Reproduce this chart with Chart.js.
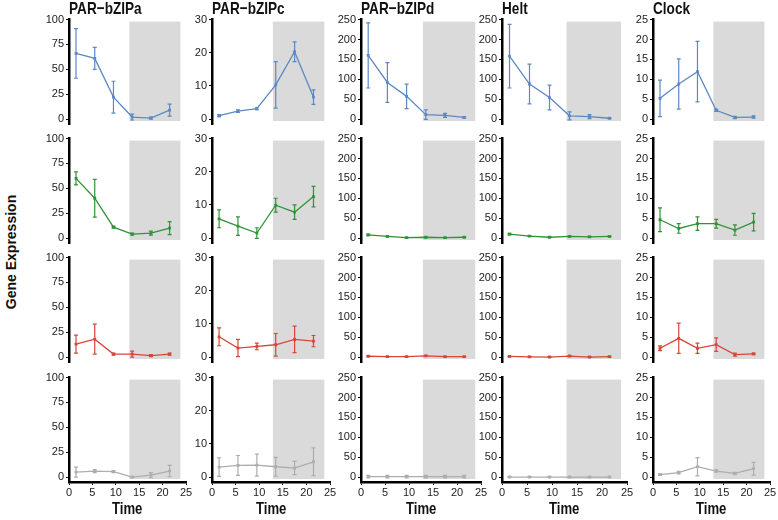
<!DOCTYPE html>
<html>
<head>
<meta charset="utf-8">
<script src="https://cdn.jsdelivr.net/npm/chart.js@4"></script>
<style>
  body { margin: 0; background: #fff; width: 778px; height: 520px; position: relative; overflow: hidden;
         font-family: 'Liberation Sans', Arial, sans-serif; }
  canvas { position: absolute; }
  .lbl { position: absolute; font-weight: bold; color: #111; white-space: nowrap; transform-origin: 0 0; }
</style>
</head>
<body>
<script>
// genes (columns) and time points
const genes = ['PAR\u2212bZIPa', 'PAR\u2212bZIPc', 'PAR\u2212bZIPd', 'Helt', 'Clock'];
const time = [1.5, 5.5, 9.5, 13.5, 17.5, 21.5];
const xTicks = [0, 5, 10, 15, 20, 25];
const darkStart = 12.9, darkEnd = 23.8;

// y range per gene
const yMax = [100, 30, 250, 250, 25];
const yTicks = [
  [0, 25, 50, 75, 100],
  [0, 10, 20, 30],
  [0, 50, 100, 150, 200, 250],
  [0, 50, 100, 150, 200, 250],
  [0, 5, 10, 15, 20, 25]
];

// row 1 (blue)
const blueMean = [
  [66, 61, 22, 2, 1, 9],
  [1, 2.4, 3.1, 10.3, 20.3, 6.6],
  [160, 92, 57, 11, 9, 4],
  [158, 88, 54, 8, 6, 2],
  [5.2, 8.8, 11.9, 2.2, 0.4, 0.5]
];
const blueErr = [
  [25, 11, 16, 3, 1, 6],
  [0.3, 0.4, 0.3, 7, 3, 2.2],
  [82, 50, 31, 12, 5, 2],
  [80, 50, 31, 10, 5, 1],
  [4.6, 6.3, 7.6, 0.3, 0.3, 0.3]
];
// row 2 (green)
const greenMean = [
  [60, 40, 11, 4, 5, 10],
  [5.8, 3.6, 1.5, 9.9, 7.8, 12.5],
  [8, 4, 1, 2, 1, 2],
  [10, 5, 2, 4, 3, 4],
  [4.6, 2.4, 3.6, 3.6, 2.0, 4.0]
];
const greenErr = [
  [6.5, 19, 1, 1, 2, 6.5],
  [2.7, 2.8, 1.6, 2.1, 2.2, 3.1],
  [2, 1, 1, 1, 1, 1],
  [2, 1, 1, 1, 1, 1],
  [3, 1.2, 1.7, 1.1, 1.3, 2.2]
];
// row 3 (red)
const redMean = [
  [13, 18, 3, 3, 1.5, 3],
  [6.1, 2.7, 3.2, 3.7, 5.3, 4.8],
  [2, 1, 1, 3, 1, 1],
  [1.5, 0.5, 0, 2.5, 0, 1],
  [2.2, 4.7, 2.2, 3.1, 0.6, 0.8]
];
const redErr = [
  [9, 15, 1, 3, 1, 1],
  [2.7, 2.6, 1, 3.4, 4, 1.7],
  [1, 1, 1, 1, 1, 1],
  [1, 1, 1, 1, 1, 1],
  [0.6, 3.8, 1.3, 1.7, 0.4, 0.2]
];
// row 4 (grey)
const greyMean = [
  [5, 6, 5.5, 0, 2, 6],
  [3, 3.5, 3.6, 3.1, 2.7, 4.6],
  [1, 1, 1, 1, 1, 1],
  [0, 0, 0, 0, 0, 0],
  [0.6, 1.1, 2.6, 1.5, 0.9, 2.1]
];
const greyErr = [
  [5, 1.5, 1, 0.5, 2.5, 5.7],
  [2.8, 3, 3.3, 2.8, 2, 4.2],
  [3, 3, 3, 3, 3, 3],
  [1, 1, 1, 1, 1, 1],
  [0.2, 0.3, 2.3, 0.3, 0.3, 1.6]
];

const rows = [
  { mean: blueMean, err: blueErr, color: '#5b89c4' },
  { mean: greenMean, err: greenErr, color: '#2f9438' },
  { mean: redMean, err: redErr, color: '#d8453a' },
  { mean: greyMean, err: greyErr, color: '#adadad' }
];

// page layout
const colAxisX = [69, 212, 361, 502, 653];
const colSpan = [117, 118, 120, 125, 117];
const rowTop = [20, 139, 258, 378];
const plotH = 105;
const axisW = 30;

const shadePlugin = {
  id: 'shade',
  beforeDatasetsDraw(chart, args, opts) {
    const { ctx, scales: { x, y } } = chart;
    const l = x.getPixelForValue(opts.from), r = x.getPixelForValue(opts.to);
    const t = y.getPixelForValue(opts.top), b = y.getPixelForValue(opts.bottom);
    ctx.save();
    ctx.fillStyle = '#dadada';
    ctx.fillRect(l, t, r - l, b - t);
    ctx.restore();
  }
};

const errorBars = {
  id: 'errorBars',
  beforeDatasetsDraw(chart) {
    const { ctx, scales: { x, y } } = chart;
    chart.data.datasets.forEach(ds => {
      ctx.save();
      ctx.strokeStyle = ds.borderColor;
      ctx.lineWidth = 1.2;
      ds.data.forEach((p, i) => {
        const e = ds.errors[i];
        const px = x.getPixelForValue(p.x);
        const y1 = y.getPixelForValue(p.y + e);
        const y2 = y.getPixelForValue(Math.max(p.y - e, y.min));
        ctx.beginPath();
        ctx.moveTo(px, y1); ctx.lineTo(px, y2);
        ctx.moveTo(px - 2, y1); ctx.lineTo(px + 2, y1);
        ctx.moveTo(px - 2, y2); ctx.lineTo(px + 2, y2);
        ctx.stroke();
      });
      ctx.restore();
    });
  }
};

const tickFont = { family: "'Liberation Sans', Arial, sans-serif", size: 11 };

const makePanel = (r, c) => {
  const bottom = r === rows.length - 1;
  const max = yMax[c];
  const padTop = 8, padRight = bottom ? 12 : 4, padBottom = 10;
  const w = axisW + colSpan[c] + padRight;
  let h = padTop + plotH + padBottom + (bottom ? 24 : 0);

  const canvas = document.createElement('canvas');
  canvas.width = w; canvas.height = h;
  canvas.style.width = w + 'px'; canvas.style.height = h + 'px';
  document.body.appendChild(canvas);

  const chart = new Chart(canvas, {
    type: 'line',
    data: {
      datasets: [{
        data: time.map((t, i) => ({ x: t, y: rows[r].mean[c][i] })),
        errors: rows[r].err[c],
        borderColor: rows[r].color,
        backgroundColor: rows[r].color,
        borderWidth: 1.3,
        pointStyle: 'rect',
        pointRadius: 2,
        pointBorderWidth: 0,
        tension: 0
      }]
    },
    options: {
      responsive: false,
      animation: false,
      devicePixelRatio: 1,
      layout: { padding: { top: padTop, left: 0, right: padRight, bottom: padBottom } },
      plugins: {
        legend: { display: false },
        tooltip: { enabled: false },
        shade: { from: darkStart, to: darkEnd, top: max * 0.98, bottom: -max * 0.02 }
      },
      scales: {
        x: {
          type: 'linear',
          min: 0, max: 25,
          display: bottom,
          afterBuildTicks: s => { s.ticks = xTicks.map(v => ({ value: v })); },
          afterFit: s => { s.height = bottom ? 24 : 0; },
          grid: { display: true, drawOnChartArea: false, tickLength: 3, color: '#000' },
          border: { display: true, color: '#000', width: 2.5 },
          ticks: { color: '#222', font: tickFont, padding: 1, maxRotation: 0, autoSkip: false }
        },
        y: {
          min: -max * 0.05, max: max,
          afterBuildTicks: s => { s.ticks = yTicks[c].map(v => ({ value: v })); },
          afterFit: s => { s.width = axisW; },
          grid: { display: true, drawOnChartArea: false, tickLength: 3, color: '#000' },
          border: { display: true, color: '#000', width: 2.5 },
          ticks: { color: '#222', font: tickFont, padding: 2, autoSkip: false }
        }
      }
    },
    plugins: [shadePlugin, errorBars]
  });

  // make the plot area exactly plotH tall
  const diff = plotH - (chart.chartArea.bottom - chart.chartArea.top);
  if (Math.abs(diff) > 0.5) {
    h += diff;
    chart.resize(w, h);
  }

  const ca = chart.chartArea;
  canvas.style.left = (colAxisX[c] - ca.left) + 'px';
  canvas.style.top = (rowTop[r] - ca.top) + 'px';
};

for (let r = 0; r < rows.length; r++) {
  for (let c = 0; c < genes.length; c++) makePanel(r, c);
}

const addLabel = (text, css) => {
  const d = document.createElement('div');
  d.className = 'lbl';
  d.textContent = text;
  Object.assign(d.style, css);
  document.body.appendChild(d);
  return d;
};

genes.forEach((g, c) => {
  addLabel(g, { left: colAxisX[c] + 'px', top: '-1px', fontSize: '17px', transform: 'scaleX(0.8)' });
  const t = addLabel('Time', { top: '500px', fontSize: '16px' });
  const tw = t.offsetWidth * 0.82;
  t.style.transform = 'scaleX(0.82)';
  t.style.left = (colAxisX[c] + colSpan[c] / 2 - tw / 2) + 'px';
});

const ge = addLabel('Gene Expression', { fontSize: '14px', transformOrigin: '50% 50%' });
ge.style.left = (11 - ge.offsetWidth / 2) + 'px';
ge.style.top = (252 - ge.offsetHeight / 2) + 'px';
ge.style.transform = 'rotate(-90deg)';
</script>
</body>
</html>
